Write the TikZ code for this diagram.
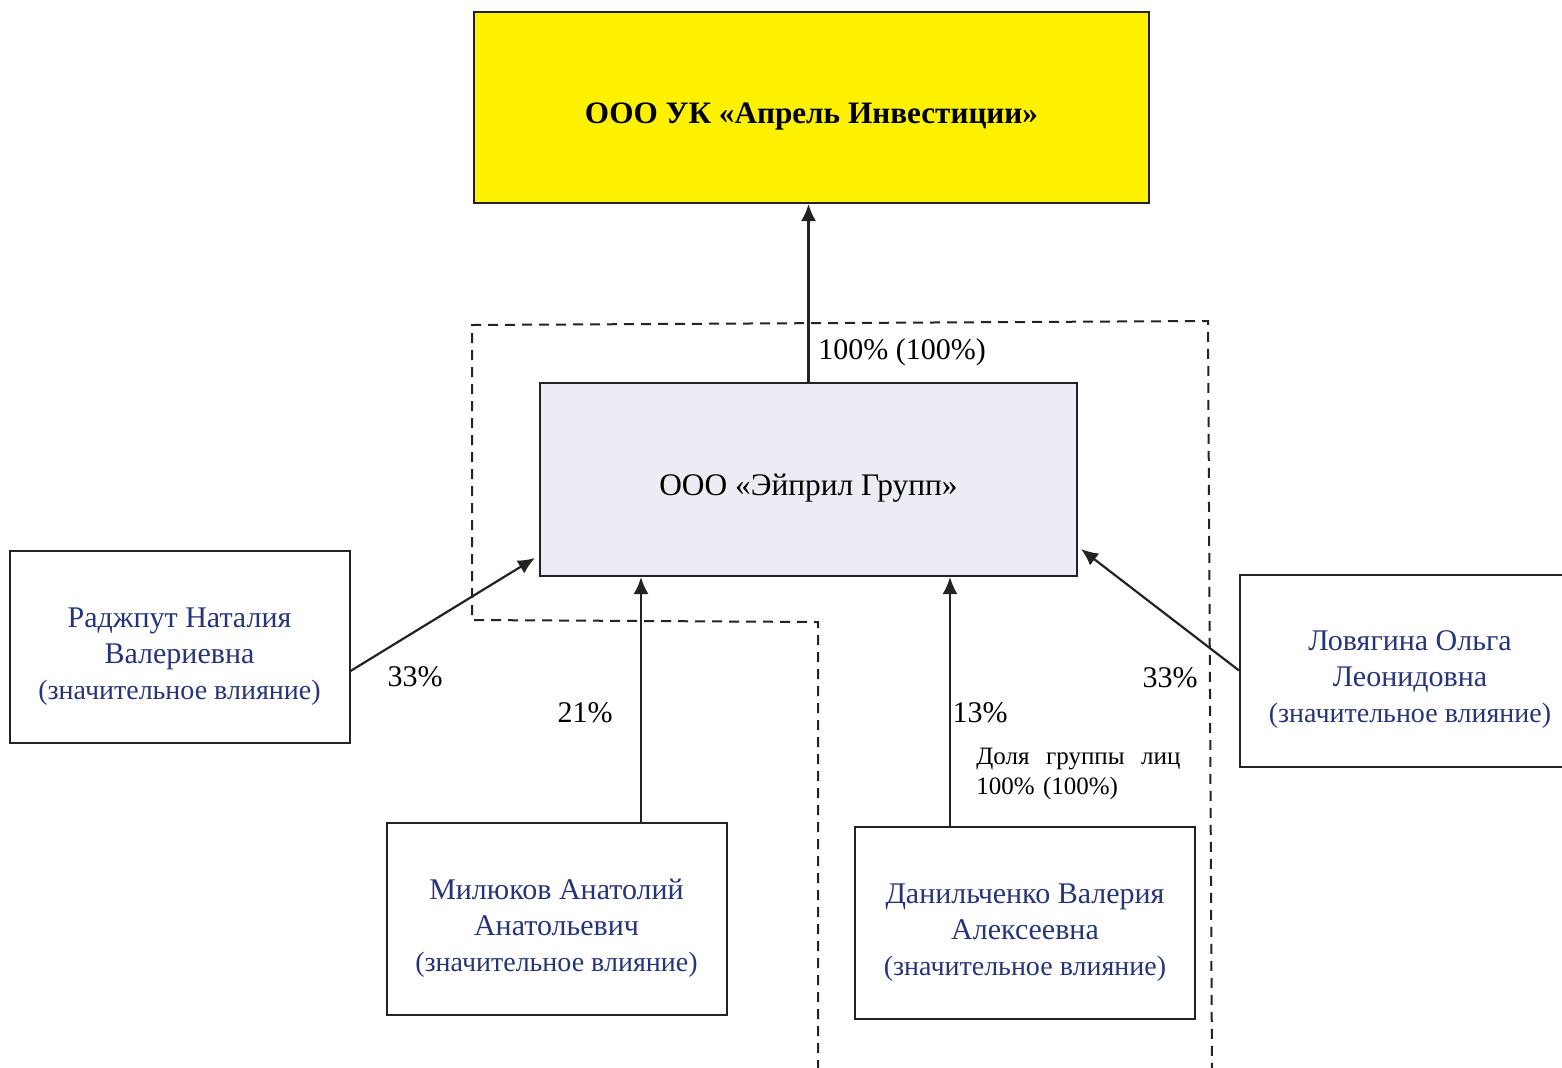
\documentclass[tikz,border=0pt]{standalone}
\usepackage{fontspec}
\setmainfont{Liberation Serif}
\usetikzlibrary{arrows.meta}
\definecolor{namecol}{RGB}{38,52,120}
\definecolor{grpfill}{RGB}{236,236,244}
\definecolor{linecol}{RGB}{35,35,35}
\newcommand{\influence}{{\fontsize{14}{18}\selectfont(значительное влияние)}}
\newcommand{\pname}[2]{\rule{0pt}{19pt}#1\\#2\\\influence}

\begin{document}
\begin{tikzpicture}[x=0.5pt,y=-0.5pt,
       entity/.style={draw=linecol,line width=1pt,align=center,inner sep=0pt,
                      font=\fontsize{15.7}{18}\selectfont},
       person/.style={entity,minimum width=170pt,minimum height=96pt,text=namecol,
                      font=\fontsize{15}{18}\selectfont},
       own/.style={draw=linecol,line width=1.1pt,-{Latex[length=8.5pt,width=7.5pt]}},
       share/.style={inner sep=0pt,font=\fontsize{15}{18}\selectfont}]
    \useasboundingbox (0,0) rectangle (1562,1067);
    % group of persons
    \draw[linecol,line width=1pt,dash pattern=on 5pt off 3.5pt]
        (818,1070) -- (818,622) -- (472,620) -- (472,325) -- (1208,321) -- (1212,1070);

    \node[entity,fill=yellow,minimum width=337.5pt,minimum height=95.5pt,
          font=\bfseries\fontsize{15.6}{18}\selectfont] (uk) at (811.5,107.5)
          {\rule{0pt}{19pt}ООО УК «Апрель Инвестиции»};
    \node[entity,fill=grpfill,minimum width=268.5pt,minimum height=96.5pt] (grp)
          at (808.5,479.5) {\rule{0pt}{19pt}ООО «Эйприл Групп»};

    \node[person] (rad) at (179.5,647) {\pname{Раджпут Наталия}{Валериевна}};
    \node[person] (lov) at (1410,670.5) {\pname{Ловягина Ольга}{Леонидовна}};
    \node[person] (mil) at (556.5,919) {\pname{Милюков Анатолий}{Анатольевич}};
    \node[person] (dan) at (1025,923) {\pname{Данильченко Валерия}{Алексеевна}};

    % shares
    \draw[own] (grp.north) -- (grp.north |- uk.south);
    \draw[own] ([yshift=-12pt]rad.east) -- ([shift={(-2pt,9.5pt)}]grp.south west);
    \draw[own] ([xshift=42.25pt]mil.north) -- ([xshift=42.25pt]mil.north |- grp.south);
    \draw[own] ([xshift=-37.5pt]dan.north) -- ([xshift=-37.5pt]dan.north |- grp.south);
    \draw[own] (lov.west) -- ([shift={(1.5pt,14pt)}]grp.south east);

    \node[share,anchor=west] (lgrp) at (818,352) {100\% (100\%)};
    \node[share] (lrad) at (415,677) {33\%};
    \node[share] (lmil) at (585,713) {21\%};
    \node[share] (ldan) at (980,713) {13\%};
    \node[share] (llov) at (1170,678) {33\%};
    \node[share,anchor=north west,text width=102pt,align=left,
          font=\fontsize{12.5}{15}\selectfont] (lgroup) at (976,748)
          {Доля\hfill группы\hfill лиц\\100\% (100\%)};
\end{tikzpicture}
\end{document}
